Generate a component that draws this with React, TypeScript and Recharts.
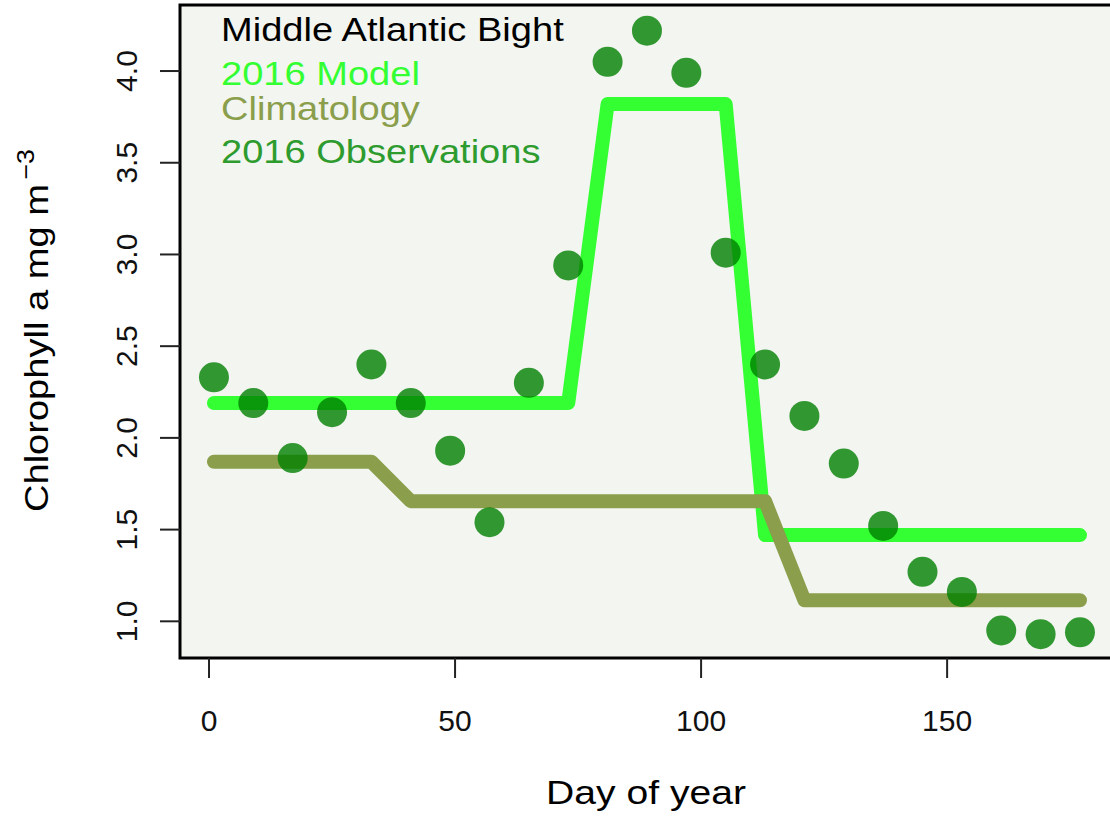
import { ComposedChart, Line, Scatter, XAxis, YAxis, CartesianGrid, ReferenceArea } from "recharts";

// 8-day composite days
const days = [1, 9, 17, 25, 33, 41, 49, 57, 65, 73, 81, 89, 97, 105, 113, 121, 129, 137, 145, 153, 161, 169, 177];

const obsValues = [2.33, 2.19, 1.89, 2.14, 2.4, 2.19, 1.93, 1.54, 2.3, 2.94, 4.05, 4.22, 3.99, 3.01, 2.4, 2.12, 1.86, 1.52, 1.27, 1.16, 0.95, 0.93, 0.94];

const modelValues = [2.19, 2.19, 2.19, 2.19, 2.19, 2.19, 2.19, 2.19, 2.19, 2.19, 3.82, 3.82, 3.82, 3.82, 1.47, 1.47, 1.47, 1.47, 1.47, 1.47, 1.47, 1.47, 1.47];

const climValues = [1.87, 1.87, 1.87, 1.87, 1.87, 1.655, 1.655, 1.655, 1.655, 1.655, 1.655, 1.655, 1.655, 1.655, 1.655, 1.115, 1.115, 1.115, 1.115, 1.115, 1.115, 1.115, 1.115];

const xTicks = [0, 50, 100, 150];
const yTicks = [1.0, 1.5, 2.0, 2.5, 3.0, 3.5, 4.0];

const legendItems = [
  { text: "Middle Atlantic Bight", color: "#000000" },
  { text: "2016 Model", color: "#33ff33" },
  { text: "Climatology", color: "#8a9e4b" },
  { text: "2016 Observations", color: "#2e9b2e" },
];

const obsData = days.map((d, i) => ({ day: d, value: obsValues[i] }));
const modelData = days.map((d, i) => ({ day: d, value: modelValues[i] }));
const climData = days.map((d, i) => ({ day: d, value: climValues[i] }));

const FONT = '"Liberation Sans", Arial, sans-serif';
const PLOT_LEFT = 180;
const PLOT_BOTTOM = 658;
const legendY = [41, 85, 120, 163];

const XTick = ({ x, payload }: any) => (
  <g>
    <line x1={x} x2={x} y1={PLOT_BOTTOM} y2={PLOT_BOTTOM + 20} stroke="#222" strokeWidth={2} />
    <text x={x} y={731} textAnchor="middle" fontSize={30} fontFamily={FONT} fill="#111">
      {payload.value}
    </text>
  </g>
);

const YTick = ({ y, payload }: any) => (
  <g>
    <line x1={PLOT_LEFT - 20} x2={PLOT_LEFT} y1={y} y2={y} stroke="#222" strokeWidth={2} />
    <text
      x={137}
      y={y}
      transform={`rotate(-90, 137, ${y})`}
      textAnchor="middle"
      fontSize={30}
      fontFamily={FONT}
      fill="#111"
    >
      {Number(payload.value).toFixed(1)}
    </text>
  </g>
);

const Dot = (props: any) => (
  <circle cx={props.cx} cy={props.cy} r={15} fill="#008000" fillOpacity={0.8} />
);

export default function App() {
  return (
    <div style={{ position: "absolute", left: 0, top: 0, width: 1110, height: 821, overflow: "hidden", background: "#fff" }}>
      <ComposedChart width={1140} height={821} margin={{ top: 5, right: 0, bottom: 0, left: 0 }}>
        <CartesianGrid fill="#f3f5f0" horizontal={false} vertical={false} />
        <XAxis
          type="number"
          dataKey="day"
          domain={[-5.9, 189.2]}
          allowDataOverflow
          ticks={xTicks}
          height={163}
          axisLine={false}
          tickLine={false}
          tick={<XTick />}
        />
        <YAxis
          type="number"
          domain={[0.8, 4.36]}
          allowDataOverflow
          ticks={yTicks}
          width={180}
          axisLine={false}
          tickLine={false}
          tick={<YTick />}
        />
        <ReferenceArea x1={-5.9} x2={189.2} y1={0.8} y2={4.36} fill="none" stroke="#000" strokeWidth={3} />
        <Line
          data={modelData}
          dataKey="value"
          stroke="#33ff33"
          strokeWidth={14}
          strokeLinecap="round"
          strokeLinejoin="round"
          dot={false}
          activeDot={false}
          isAnimationActive={false}
        />
        <Line
          data={climData}
          dataKey="value"
          stroke="#8a9e4b"
          strokeWidth={14}
          strokeLinecap="round"
          strokeLinejoin="round"
          dot={false}
          activeDot={false}
          isAnimationActive={false}
        />
        <Scatter data={obsData} dataKey="value" shape={<Dot />} isAnimationActive={false} />
      </ComposedChart>
      <svg width={1110} height={821} style={{ position: "absolute", left: 0, top: 0, pointerEvents: "none" }}>
        {legendItems.map((item, i) => (
          <text
            key={item.text}
            transform={`translate(221, ${legendY[i]}) scale(1.12, 1)`}
            fontSize={34}
            fontFamily={FONT}
            fill={item.color}
          >
            {item.text}
          </text>
        ))}
        <text transform="translate(646, 804) scale(1.15, 1)" textAnchor="middle" fontSize={34} fontFamily={FONT} fill="#000">
          Day of year
        </text>
        <text transform="translate(48, 512) rotate(-90) scale(1.12, 1)" fontSize={34} fontFamily={FONT} fill="#000">
          Chlorophyll a mg m
          <tspan dx={4} dy={-14} fontSize={24}>−3</tspan>
        </text>
      </svg>
    </div>
  );
}
